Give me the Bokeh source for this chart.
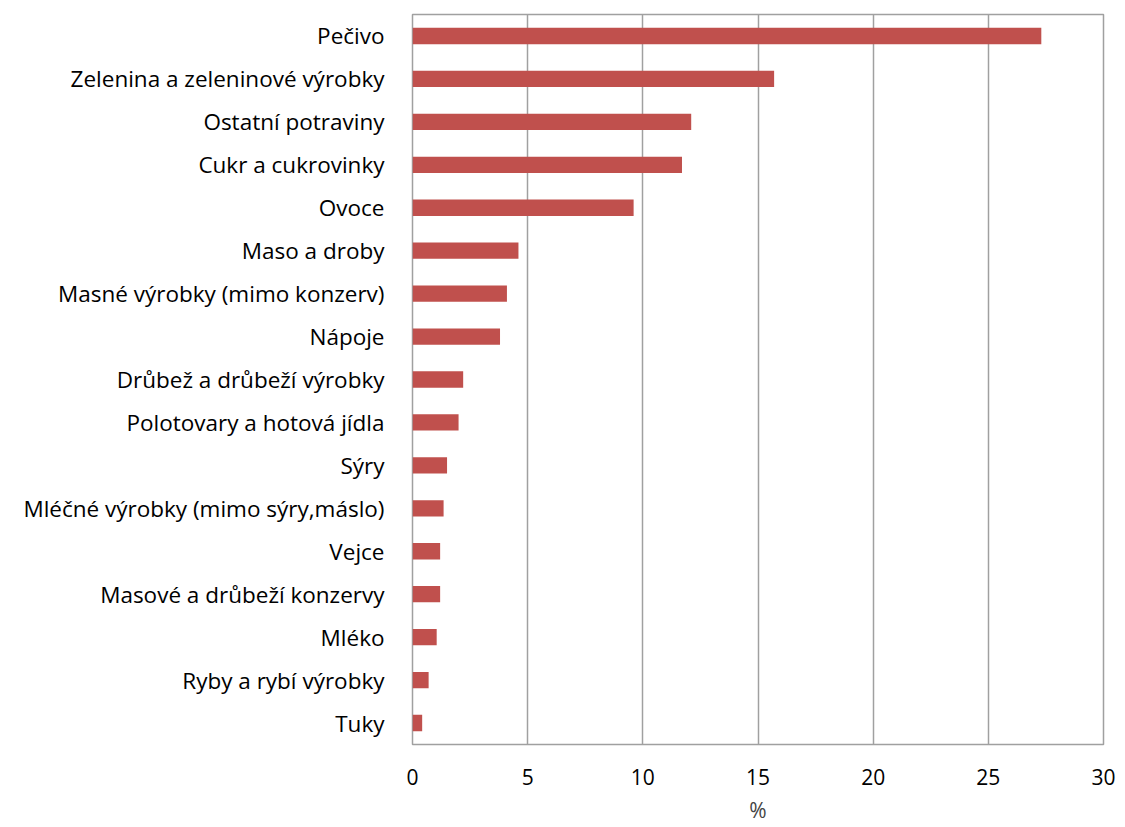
from bokeh.plotting import figure
from bokeh.models import FactorRange, Range1d, FixedTicker
from bokeh.embed import file_html
from bokeh.resources import INLINE

categories = [
    "Pečivo",
    "Zelenina a zeleninové výrobky",
    "Ostatní potraviny",
    "Cukr a cukrovinky",
    "Ovoce",
    "Maso a droby",
    "Masné výrobky (mimo konzerv)",
    "Nápoje",
    "Drůbež a drůbeží výrobky",
    "Polotovary a hotová jídla",
    "Sýry",
    "Mléčné výrobky (mimo sýry,máslo)",
    "Vejce",
    "Masové a drůbeží konzervy",
    "Mléko",
    "Ryby a rybí výrobky",
    "Tuky",
]
values = [27.3, 15.7, 12.1, 11.7, 9.6, 4.6, 4.1, 3.8, 2.2, 2.0, 1.5, 1.35, 1.2, 1.2, 1.05, 0.7, 0.42]
x_ticks = [0, 5, 10, 15, 20, 25, 30]

factors = list(reversed(categories))
FONT = "Open Sans"

p = figure(
    width=1118, height=827,
    y_range=FactorRange(factors=factors, range_padding=0),
    x_range=Range1d(0, 30),
    output_backend="svg", toolbar_location=None,
    min_border_left=412, min_border_right=15, min_border_top=14, min_border_bottom=83,
)
p.hbar(y=categories, right=values, height=0.38, left=0, color="#c0504d", line_color=None)

p.outline_line_color = "#a0a0a0"
p.outline_line_width = 1.5
p.xgrid.grid_line_color = "#a0a0a0"
p.xgrid.grid_line_width = 1.5
p.ygrid.grid_line_color = None
p.xaxis.ticker = FixedTicker(ticks=x_ticks)
p.xaxis.axis_line_color = None
p.xaxis.major_tick_line_color = None
p.xaxis.minor_tick_line_color = None
p.xaxis.major_label_text_font = FONT
p.xaxis.major_label_text_font_size = "21px"
p.xaxis.major_label_text_color = "#000000"
p.xaxis.major_label_standoff = 18
p.xaxis.axis_label = "%"
p.xaxis.axis_label_text_font = FONT
p.xaxis.axis_label_text_font_size = "21px"
p.xaxis.axis_label_text_font_style = "normal"
p.xaxis.axis_label_standoff = 8

p.yaxis.axis_line_color = None
p.yaxis.major_tick_line_color = None
p.yaxis.minor_tick_line_color = None
p.yaxis.major_label_text_font = FONT
p.yaxis.major_label_text_font_size = "22.5px"
p.yaxis.major_label_text_color = "#000000"
p.yaxis.major_label_standoff = 22

open("out.html", "w").write(file_html(p, INLINE))
